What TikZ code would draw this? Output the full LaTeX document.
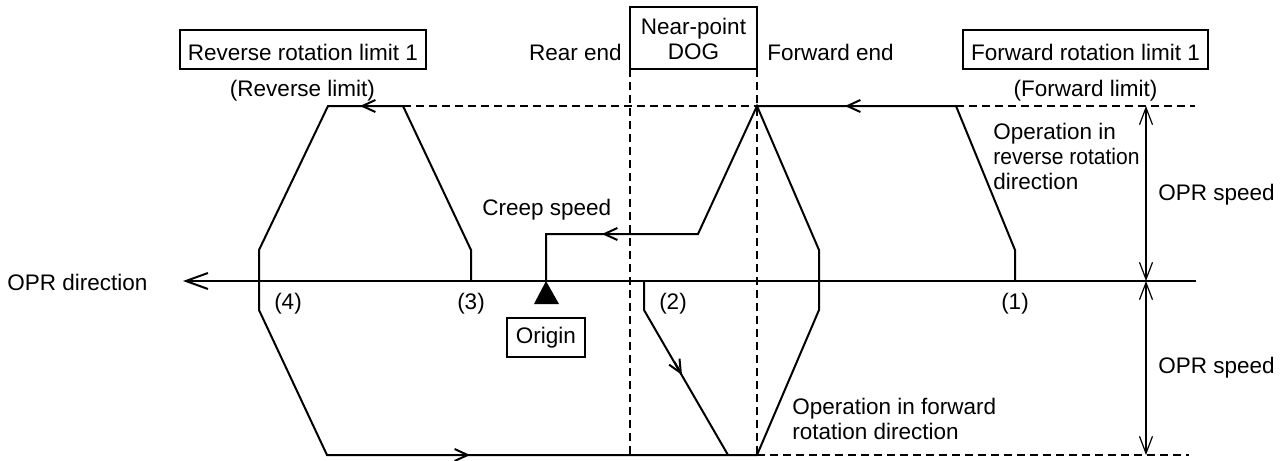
\documentclass[tikz,border=0pt]{standalone}
\usepackage{fontspec}
\setmainfont{Liberation Sans}
\usetikzlibrary{arrows.meta}
\begin{document}
\begin{tikzpicture}[x=0.5pt,y=-0.5pt,
  font=\fontsize{11.25}{13.5}\selectfont,
  trk/.style={line width=1pt,line join=miter},
  dsh/.style={line width=0.6pt,dash pattern=on 4pt off 2.5pt},
  dim/.style={line width=0.6pt,{Straight Barb[length=8.5pt,width=6.5pt]}-{Straight Barb[length=8.5pt,width=6.5pt]}},
  midarr/.style={line width=1pt,-{Straight Barb[length=6.5pt,width=6pt]}},
  axarr/.style={line width=1pt,-{Straight Barb[length=11pt,width=8pt]}},
  boxed/.style={draw,line width=1.1pt,inner sep=0pt,anchor=base},
  lbl/.style={inner sep=0pt}]
\useasboundingbox (0,0) rectangle (1282,461);

% key coordinates
\coordinate (axR) at (1196,281);
\coordinate (axL) at (183,281);
\coordinate (peak) at (757,106);

% dashed guide lines
\draw[dsh] (403,106) -- (peak);
\draw[dsh] (956,106) -- (1195,106);
\draw[dsh] (757,455) -- (1189,455);
\draw[dsh] (630,69) -- (630,455);
\draw[dsh] (757,69) -- (757,455);

% axis
\draw[axarr] (axR) -- (axL);

% boxes
\node[boxed,minimum width=123pt,text height=15pt,text depth=4.5pt] (revbox) at (303,60) {Reverse rotation limit 1};
\node[boxed,minimum width=122.5pt,text height=15pt,text depth=4.5pt] (fwdbox) at (1085.5,60) {Forward rotation limit 1};
\node[draw,line width=1.1pt,minimum width=63.5pt,minimum height=31pt,inner sep=0pt] (dog) at (693.5,38) {};
\node[lbl,anchor=base] (dogA) at (693.5,34) {Near-point};
\node[lbl,anchor=base] (dogB) at (693.5,59) {DOG};
\node[boxed,minimum width=39pt,text height=12.5pt,text depth=7pt] (origin) at (546,343) {Origin};

% labels
\node[lbl,anchor=base] (revlim) at (302.5,96) {(Reverse limit)};
\node[lbl,anchor=base] (fwdlim) at (1085.5,96) {(Forward limit)};
\node[lbl,anchor=base east] (rear) at (622,60) {Rear end};
\node[lbl,anchor=base west] (front) at (767,60) {Forward end};
\node[lbl,anchor=base west] (opr1) at (993,139) {Operation in};
\node[lbl,anchor=base west,xscale=0.935] (opr2) at (993,164) {reverse rotation};
\node[lbl,anchor=base west] (opr3) at (993,189) {direction};
\node[lbl,anchor=base west] (spdU) at (1158,200) {OPR speed};
\node[lbl,anchor=base west] (spdL) at (1158,373) {OPR speed};
\node[lbl,anchor=base west] (creep) at (482,215) {Creep speed};
\node[lbl,anchor=base west] (dir) at (7,290) {OPR direction};
\node[lbl,anchor=base] (n4) at (288,309) {(4)};
\node[lbl,anchor=base] (n3) at (471,309) {(3)};
\node[lbl,anchor=base] (n2) at (673,309) {(2)};
\node[lbl,anchor=base] (n1) at (1015,309) {(1)};
\node[lbl,anchor=base west] (fop1) at (792,414) {Operation in forward};
\node[lbl,anchor=base west] (fop2) at (792,439) {rotation direction};

% motion paths
\draw[trk] (471,281) -- (471,250) -- (403,106) -- (328,106) -- (259,250) -- (259,310)
  -- (327,455) -- (757,455) -- (819,310) -- (819,250) -- (peak) -- (698,234) -- (546,234) -- (546,281);
\draw[trk] (1015,281) -- (1015,250) -- (956,106) -- (peak);
\draw[trk] (644,281) -- (644,310) -- (728,455);

% direction marks
\draw[midarr] (375,106) -- (360,106);
\draw[midarr] (860,106) -- (845,106);
\draw[midarr] (617,234) -- (602,234);
\draw[midarr] (455,455) -- (470,455);
\draw[midarr] (674.5,362) -- (682,375);

% origin marker
\fill (546,281) -- (559,304) -- (534,304) -- cycle;

% OPR speed dimensions
\draw[dim] (1146,106) -- (1146,281);
\draw[dim] (1146,281) -- (1146,455);
\end{tikzpicture}
\end{document}
